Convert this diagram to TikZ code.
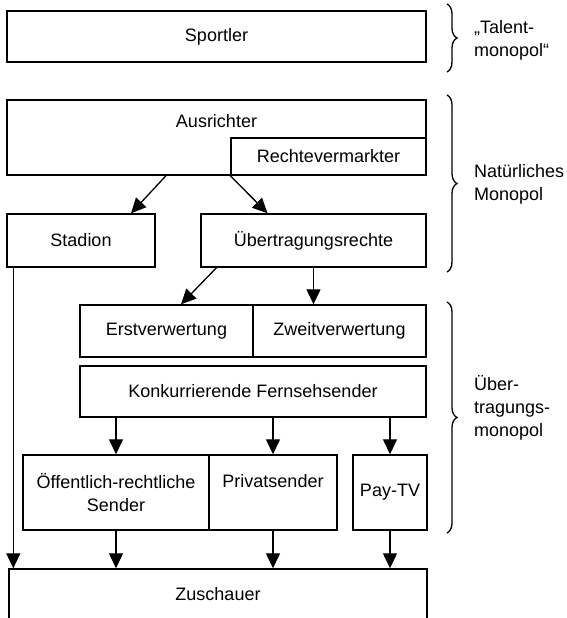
\documentclass[tikz,border=0pt]{standalone}
\usepackage{fontspec}
\setmainfont{Liberation Sans}
\usetikzlibrary{arrows.meta}
\usetikzlibrary{decorations.pathreplacing}

\begin{document}
\begin{tikzpicture}[
            x=1pt, y=-1pt,
            font=\fontsize{18}{23}\selectfont,
            box/.style={draw, line width=1.4pt, inner sep=0pt, align=center},
            arr/.style={line width=1.3pt, -{Triangle[length=15pt, width=14pt]}},
            brace/.style={decorate, decoration={brace, amplitude=10pt}, line width=1.3pt},
            side/.style={anchor=west, align=left, inner sep=0pt},
            ]
            \useasboundingbox (0,0) rectangle (566,618);
            \def\B{447}

            \node[box, minimum width=419pt, minimum height=51pt] (sportler) at (216.5,36.5) {Sportler};
            \node[box, minimum width=419pt, minimum height=75pt] (ausrichter) at (216.5,137.5) {};
            \node (ausrichtertext) at ([yshift=-21.5pt]ausrichter.north) {Ausrichter};
            \node[box, minimum width=195pt, minimum height=37pt] (rechte) at (328.5,156.5) {Rechtevermarkter};
            \node[box, minimum width=148pt, minimum height=53pt] (stadion) at (81,240.5) {Stadion};
            \node[box, minimum width=225pt, minimum height=53pt] (uebertragung) at (313.5,240.5) {Übertragungsrechte};
            \node[box, minimum width=173pt, minimum height=52pt] (erst) at (166.5,331) {Erstverwertung};
            \node[box, minimum width=173pt, minimum height=52pt] (zweit) at (339.5,331) {Zweitverwertung};
            \node[box, minimum width=346pt, minimum height=51pt] (konk) at (253,391.5) {Konkurrierende Fernsehsender};
            \node[box, minimum width=186pt, minimum height=75pt] (oeff) at (116,492.5) {Öffentlich-rechtliche\\Sender};
            \node[box, minimum width=128pt, minimum height=75pt] (privat) at (273,492.5) {Privatsender\\\phantom{Sender}};
            \node[box, minimum width=74pt, minimum height=75pt] (paytv) at (390,492.5) {Pay-TV};
            \node[box, minimum width=418pt, minimum height=50pt] (zuschauer) at (218,594) {Zuschauer};
            \coordinate (stadionfoot) at ([xshift=7pt]stadion.south west);

            \draw[arr] ([xshift=-50.5pt]ausrichter.south) -- ([xshift=50pt]stadion.north);
            \draw[arr] (rechte.south west) -- ([xshift=-46pt]uebertragung.north);
            \draw[arr] ([xshift=-97pt]uebertragung.south) -- ([xshift=14.5pt]erst.north);
            \draw[arr] (uebertragung.south) -- (uebertragung.south |- zweit.north);
            \draw[arr] (konk.south -| oeff.north) -- (oeff.north);
            \draw[arr] (konk.south -| privat.north) -- (privat.north);
            \draw[arr] (konk.south -| paytv.north) -- (paytv.north);
            \draw[arr] (stadionfoot) -- (stadionfoot |- zuschauer.north);
            \draw[arr] (oeff.south) -- (oeff.south |- zuschauer.north);
            \draw[arr] (privat.south) -- (privat.south |- zuschauer.north);
            \draw[arr] (paytv.south) -- (paytv.south |- zuschauer.north);

            % Klammern rechts
            \draw[brace] (\B,4) -- (\B,72);
            \draw[brace] (\B,95) -- (\B,272);
            \draw[brace] (\B,302) -- (\B,533);
            \node[side] (talent) at (474,40) {„Talent-\\monopol“};
            \node[side] (natuerlich) at (474,184) {Natürliches\\Monopol};
            \node[side] (uebmonopol) at (474,408) {Über-\\tragungs-\\monopol};
        \end{tikzpicture}
\end{document}
